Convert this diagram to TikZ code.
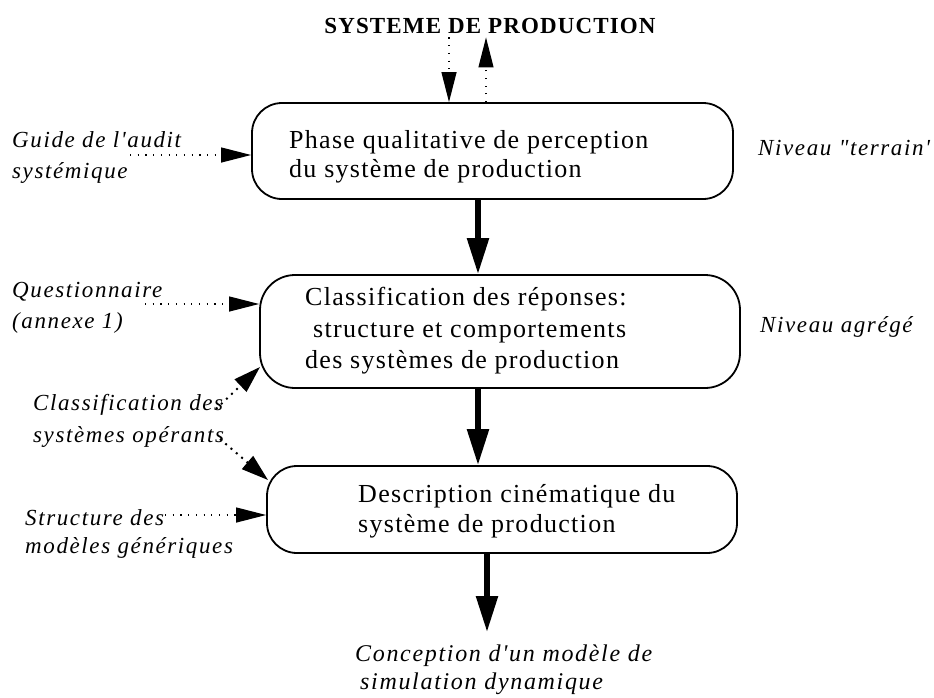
\documentclass[tikz,border=0pt]{standalone}
\usepackage{fontspec}
\setmainfont{Liberation Serif}
\newfontfamily\bxf[LetterSpace=5]{Liberation Serif}
\newfontfamily\lbf[LetterSpace=7]{Liberation Serif}
\usetikzlibrary{arrows.meta}
\begin{document}
\begin{tikzpicture}[x=1pt,y=-1pt,
  box/.style={draw, line width=1.8pt, rounded corners=30pt, inner sep=0pt},
  btxt/.style={anchor=base west, inner sep=0pt, font=\bxf\fontsize{26}{30}\selectfont},
  lab/.style={anchor=base west, inner sep=0pt, font=\lbf\itshape\fontsize{23}{27}\selectfont},
  blab/.style={anchor=base west, inner sep=0pt, font=\lbf\itshape\fontsize{24}{28}\selectfont},
  thk/.style={line width=5.5pt, -{Triangle[length=36pt,width=21pt]}},
  dotarrow/.style={line width=1.2pt, dash pattern=on 1.2pt off 6.5pt, -{Triangle[length=30pt,width=15pt]}},
  diagarrow/.style={line width=2pt, dash pattern=on 2pt off 5pt, -{Triangle[length=27pt,width=17pt]}}
]
\useasboundingbox (0,0) rectangle (934,697);

% title
\node[anchor=base, inner sep=4pt, font=\bxf\bfseries\fontsize{23}{27}\selectfont] (title) at (490,33) {SYSTEME DE PRODUCTION};

% boxes
\node[box, minimum width=481pt, minimum height=96pt] (b1) at (492.5,151) {};
\node[box, rounded corners=35pt, minimum width=480pt, minimum height=113pt] (b2) at (500,331.5) {};
\node[box, minimum width=470pt, minimum height=87pt] (b3) at (502,509.5) {};

% box texts
\node[btxt] (t1a) at (289,148) {Phase qualitative de perception};
\node[btxt] (t1b) at (289,177) {du système de production};
\node[btxt] (t2a) at (305,305) {Classification des réponses:};
\node[btxt] (t2b) at (313,337) {structure et comportements};
\node[btxt] (t2c) at (305,368) {des systèmes de production};
\node[btxt] (t3a) at (358,502) {Description cinématique du};
\node[btxt] (t3b) at (358,532) {système de production};

% left labels
\node[lab] (g1) at (12,147) {Guide de l'audit};
\node[lab] (g2) at (12,178) {systémique};
\node[lab] (q1) at (12,297) {Questionnaire};
\node[lab] (q2) at (12,328) {(annexe 1)};
\node[lab] (c1) at (33,410) {Classification des};
\node[lab] (c2) at (33,442) {systèmes opérants};
\node[lab] (s1) at (25,525) {Structure des};
\node[lab] (s2) at (25,553) {modèles génériques};

% right labels
\node[lab] (n1) at (758,155) {Niveau "terrain'};
\node[lab] (n2) at (760,332) {Niveau agrégé};

% bottom label
\node[blab] (e1) at (355,661) {Conception d'un modèle de};
\node[blab] (e2) at (360,689) {simulation dynamique};

% coordinates
\coordinate (xd) at (449,0);
\coordinate (xu) at (486,0);
\coordinate (xa) at (478,0);
\coordinate (xb) at (487,0);
\coordinate (endb) at (487,632);
\coordinate (gs) at (130,155);
\coordinate (qs) at (145,304);
\coordinate (ss) at (165,515);
\coordinate (d1s) at (216,409);
\coordinate (d1e) at (260,367);
\coordinate (d2s) at (220,439);
\coordinate (d2e) at (268,480);

% top arrows
\draw[dotarrow] (title.south -| xd) -- (b1.north -| xd);
\draw[dotarrow] (b1.north -| xu) -- (title.south -| xu);

% thick arrows
\draw[thk] (b1.south -| xa) -- (b2.north -| xa);
\draw[thk] (b2.south -| xa) -- (b3.north -| xa);
\draw[thk] (b3.south -| xb) -- (endb);

% left dotted arrows
\draw[dotarrow] (gs) -- (b1.west |- gs);
\draw[dotarrow] (qs) -- (b2.west |- qs);
\draw[dotarrow] (ss) -- (b3.west |- ss);
\draw[diagarrow] (d1s) -- (d1e);
\draw[diagarrow] (d2s) -- (d2e);
\end{tikzpicture}
\end{document}
